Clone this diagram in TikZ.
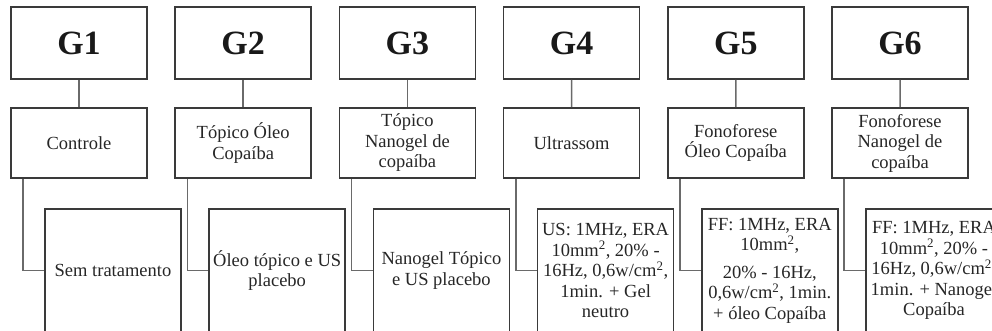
\documentclass[tikz,border=0pt]{standalone}
\usepackage{fontspec}
\setmainfont{Liberation Serif}
\usetikzlibrary{positioning}
\definecolor{boxgray}{HTML}{3A3A3A}
\definecolor{wiregray}{HTML}{6A6A6A}
\tikzset{
  grpbox/.style={draw=boxgray, line width=1.6pt, minimum width=136pt, minimum height=72pt,
    font=\fontsize{34}{36}\selectfont\bfseries, text=black!90},
  treatbox/.style={draw=boxgray, line width=1.6pt, minimum width=136pt, minimum height=70pt,
    align=center, inner sep=1pt, font=\fontsize{18.5}{20.5}\selectfont, text=black!85},
  detailbox/.style={draw=boxgray, line width=1.6pt, minimum width=136pt, minimum height=123pt,
    align=center, inner sep=1pt, font=\fontsize{18.5}{20.5}\selectfont, text=black!85},
  wire/.style={draw=wiregray, line width=1.5pt}
}
\begin{document}
\begin{tikzpicture}[x=1pt, y=-1pt]
\useasboundingbox (0,0) rectangle (992,331);
\clip (0,0) rectangle (992,331);

% group headers
\foreach \i in {1,...,6}
{
    \node[grpbox] (g\i) at ({79+164.2*(\i-1)},43) {G\i};
}

% treatments
\node[treatbox] (m1) at (79,143) {Controle};
\node[treatbox] (m2) at (243.2,143) {Tópico Óleo\\Copaíba};
\node[treatbox] (m3) at (407.4,143) {Tópico\\Nanogel de\\copaíba};
\node[treatbox] (m4) at (571.6,143) {Ultrassom};
\node[treatbox] (m5) at (735.8,143) {Fonoforese\\Óleo Copaíba};
\node[treatbox] (m6) at (900,143) {Fonoforese\\Nanogel de\\copaíba};

% protocols
\node[detailbox] (b1) at (113,270.5) {Sem tratamento};
\node[detailbox] (b2) at (277.2,270.5) {Óleo tópico e US\\placebo};
\node[detailbox] (b3) at (441.4,270.5) {Nanogel Tópico\\e US placebo};
\node[detailbox] (b4) at (605.6,270.5) {US: 1MHz, ERA\\10mm\textsuperscript{2}, 20\% -\\16Hz, 0,6w/cm\textsuperscript{2},\\1min. + Gel\\neutro};
\node[detailbox] (b5) at (769.8,270.5) {FF: 1MHz, ERA\\10mm\textsuperscript{2},\\[7pt]20\% - 16Hz,\\0,6w/cm\textsuperscript{2}, 1min.\\+ óleo Copaíba};
\node[detailbox] (b6) at (934,270.5) {FF: 1MHz, ERA\\10mm\textsuperscript{2}, 20\% -\\16Hz, 0,6w/cm\textsuperscript{2},\\1min. + Nanogel\\Copaíba};

\foreach \i in {1,...,6}
{
    \draw[wire] (g\i.south)--(m\i.north);
    \draw[wire] ([xshift=13pt]m\i.south west) |- (b\i.west);
}
\end{tikzpicture}
\end{document}
